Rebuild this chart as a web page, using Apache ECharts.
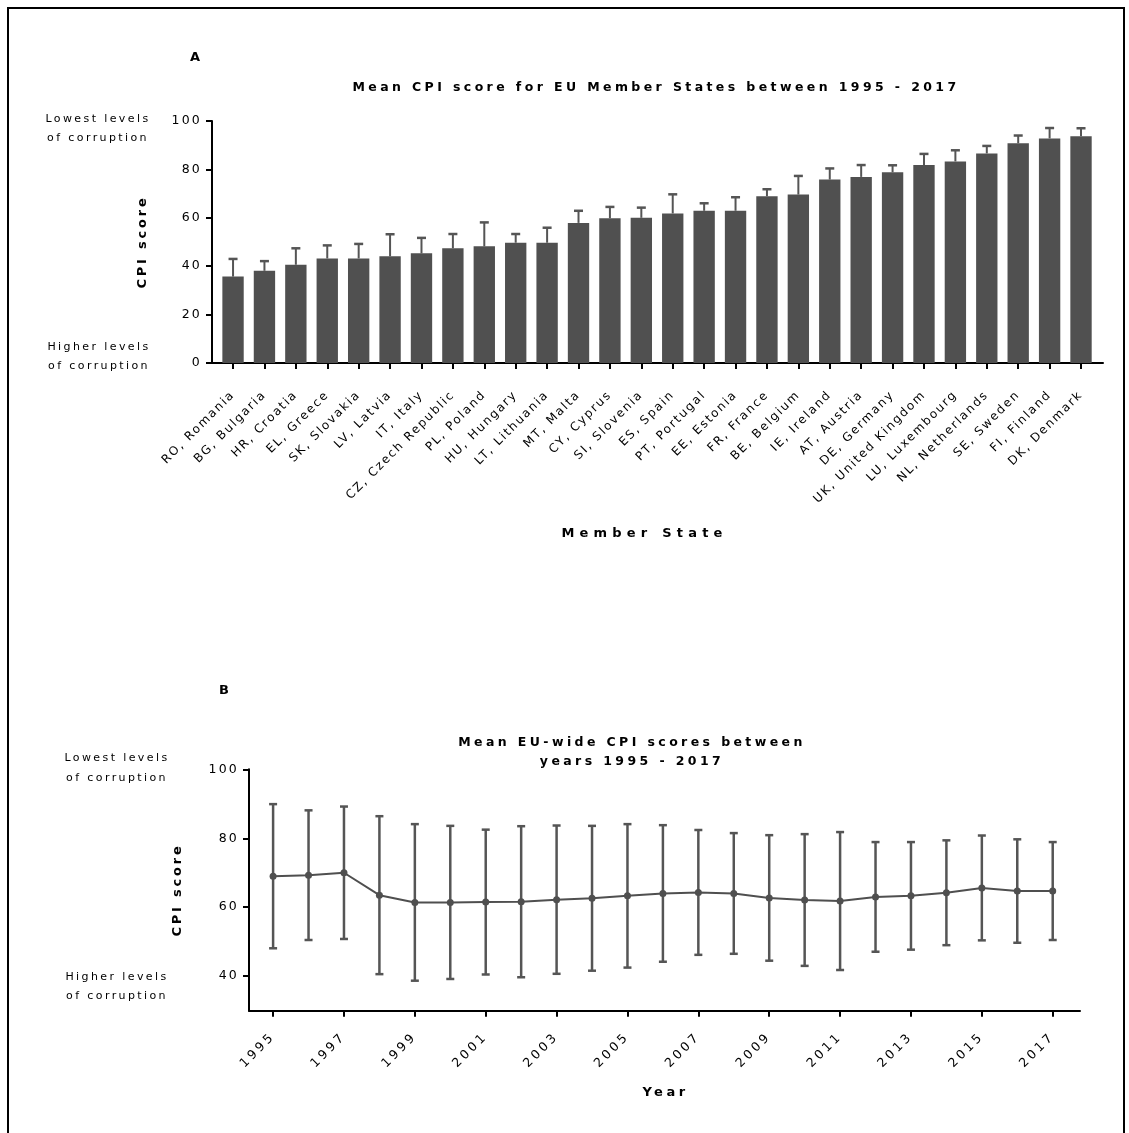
<!DOCTYPE html>
<html><head><meta charset="utf-8">
<script src="https://cdn.jsdelivr.net/npm/echarts@6/dist/echarts.min.js"></script>
<style>html,body{margin:0;padding:0;background:#fff}#c{width:1129px;height:1133px}</style>
</head><body><div id="c"></div>
<script>
// ---------------- data ----------------
const categories = ['RO, Romania','BG, Bulgaria','HR, Croatia','EL, Greece','SK, Slovakia','LV, Latvia','IT, Italy','CZ, Czech Republic','PL, Poland','HU, Hungary','LT, Lithuania','MT, Malta','CY, Cyprus','SI, Slovenia','ES, Spain','PT, Portugal','EE, Estonia','FR, France','BE, Belgium','IE, Ireland','AT, Austria','DE, Germany','UK, United Kingdom','LU, Luxembourg','NL, Netherlands','SE, Sweden','FI, Finland','DK, Denmark'];
const meanScores = [35.7,38.1,40.6,43.2,43.2,44.1,45.3,47.4,48.2,49.7,49.7,57.9,59.8,60.0,61.8,62.9,62.9,68.9,69.6,75.8,76.9,78.8,81.8,83.3,86.6,90.8,92.8,93.7];
const sdScores = [7.3,4.0,6.8,5.4,6.0,9.1,6.4,5.9,9.9,3.6,6.2,5.0,4.7,4.2,7.9,3.1,5.6,2.9,7.7,4.6,4.9,2.9,4.6,4.6,3.1,3.2,4.3,3.3];
const yTicksA = [0,20,40,60,80,100];

const years = [1995,1996,1997,1998,1999,2000,2001,2002,2003,2004,2005,2006,2007,2008,2009,2010,2011,2012,2013,2014,2015,2016,2017];
const euMean = [69.0,69.3,70.0,63.5,61.4,61.4,61.5,61.6,62.2,62.6,63.3,64.0,64.3,64.0,62.7,62.1,61.8,63.0,63.3,64.2,65.6,64.7,64.7];
const euSd = [20.9,18.8,19.2,22.9,22.7,22.2,21.0,21.9,21.5,21.0,20.8,19.8,18.1,17.5,18.2,19.1,20.0,15.9,15.6,15.2,15.2,15.0,14.2];
const yearTicks = [1995,1997,1999,2001,2003,2005,2007,2009,2011,2013,2015,2017];
const yTicksB = [40,60,80,100];

const titleA = 'Mean CPI score for EU Member States between 1995 - 2017';
const titleB = 'Mean EU-wide CPI scores between\nyears 1995 - 2017';
const noteTop = 'Lowest levels\nof corruption';
const noteBottom = 'Higher levels\nof corruption';

// ------------- letter spacing (Prism/Verdana look) -------------
(function(){
  const proto = CanvasRenderingContext2D.prototype;
  const setLS = function(ctx){
    if (!('letterSpacing' in ctx)) return;
    const m = /lsp(\d+)/.exec(ctx.font);
    ctx.letterSpacing = m ? (m[1]/10) + 'px' : '0px';
  };
  const of = proto.fillText, om = proto.measureText;
  proto.fillText = function(){ setLS(this); return of.apply(this, arguments); };
  proto.measureText = function(){ setLS(this); return om.apply(this, arguments); };
})();
const fam = s => '"DejaVu Sans", lsp' + Math.round(s * 10);

const BAR = '#505050', ERR = '#555555';
const axisLine = {show:true, onZero:false, lineStyle:{color:'#000', width:2}};
const axisTick = {show:true, length:6, lineStyle:{color:'#000', width:2}};

const chart = echarts.init(document.getElementById('c'), null, {renderer:'canvas'});

chart.setOption({
  backgroundColor:'#fff',
  animation:false,
  title:[
    {text:titleA, left:656, top:80, textAlign:'center', padding:0,
     textStyle:{fontFamily:fam(3.4), fontSize:12.5, fontWeight:'bold', color:'#000'}},
    {text:titleB, left:632, top:733, textAlign:'center', padding:0,
     textStyle:{fontFamily:fam(3.4), fontSize:12.5, fontWeight:'bold', color:'#000', lineHeight:19}}
  ],
  graphic:[
    {type:'rect', shape:{x:8, y:8, width:1116, height:1140}, style:{fill:'none', stroke:'#000', lineWidth:2}, silent:true},
    {type:'text', x:195, y:58, style:{text:'A', font:'bold 13px "DejaVu Sans"', fill:'#000', align:'center', verticalAlign:'middle'}},
    {type:'text', x:224, y:691, style:{text:'B', font:'bold 13px "DejaVu Sans"', fill:'#000', align:'center', verticalAlign:'middle'}},
    {type:'text', x:98, y:110, style:{text:noteTop, font:'11px ' + fam(2.4), fill:'#000', align:'center', verticalAlign:'top', lineHeight:19}},
    {type:'text', x:99, y:338, style:{text:noteBottom, font:'11px ' + fam(2.4), fill:'#000', align:'center', verticalAlign:'top', lineHeight:19}},
    {type:'text', x:117, y:748, style:{text:noteTop, font:'11px ' + fam(2.4), fill:'#000', align:'center', verticalAlign:'top', lineHeight:20}},
    {type:'text', x:117, y:968, style:{text:noteBottom, font:'11px ' + fam(2.4), fill:'#000', align:'center', verticalAlign:'top', lineHeight:19}}
  ],
  grid:[
    {left:212, top:121, width:891, height:242, outerBoundsMode:'none', containLabel:false},
    {left:249, top:769.3, width:831, height:241.4, outerBoundsMode:'none', containLabel:false}
  ],
  xAxis:[
    {type:'value', gridIndex:0, min:-0.67, max:27.7,
     axisLine, axisTick:Object.assign({customValues:categories.map((_, i) => i)}, axisTick),
     splitLine:{show:false},
     axisLabel:{customValues:categories.map((_, i) => i), formatter:v => categories[v] || '',
       rotate:45, margin:30, fontSize:12, fontFamily:fam(1.8), color:'#000'},
     name:'Member State', nameLocation:'middle', nameGap:162,
     nameTextStyle:{fontFamily:fam(5.2), fontSize:13, fontWeight:'bold', color:'#000', padding:[0, 26, 0, 0]}},
    {type:'value', gridIndex:1, min:1994.32, max:2017.77,
     axisLine, axisTick:Object.assign({customValues:yearTicks}, axisTick),
     splitLine:{show:false},
     axisLabel:{customValues:yearTicks, formatter:v => String(v),
       rotate:45, margin:24, fontSize:12.5, fontFamily:fam(3.0), color:'#000'},
     name:'Year', nameLocation:'middle', nameGap:74,
     nameTextStyle:{fontFamily:fam(3.5), fontSize:13, fontWeight:'bold', color:'#000', padding:[0, 0, 0, 2]}}
  ],
  yAxis:[
    {type:'value', gridIndex:0, min:0, max:100, interval:20,
     axisLine, axisTick, splitLine:{show:false},
     axisLabel:{margin:10, fontSize:12.5, fontFamily:fam(2.2), color:'#000'},
     name:'CPI score', nameLocation:'middle', nameGap:61, nameRotate:90,
     nameTextStyle:{fontFamily:fam(2.75), fontSize:13, fontWeight:'bold', color:'#000'}},
    {type:'value', gridIndex:1, min:30, max:100,
     axisLine, axisTick:Object.assign({customValues:yTicksB}, axisTick), splitLine:{show:false},
     axisLabel:{customValues:yTicksB, margin:10, fontSize:12.5, fontFamily:fam(2.2), color:'#000'},
     name:'CPI score', nameLocation:'middle', nameGap:63, nameRotate:90,
     nameTextStyle:{fontFamily:fam(2.75), fontSize:13, fontWeight:'bold', color:'#000'}}
  ],
  series:[
    {type:'custom', name:'SD', xAxisIndex:0, yAxisIndex:0, z:1,
     data:meanScores.map((m, i) => [i, m, m + sdScores[i]]),
     renderItem:(params, api) => {
       const x = api.value(0);
       const p0 = api.coord([x, api.value(1)]);
       const p1 = api.coord([x, api.value(2)]);
       const hw = 4.5;
       return {type:'group', children:[
         {type:'line', shape:{x1:p0[0], y1:p0[1], x2:p1[0], y2:p1[1]}, style:{stroke:ERR, lineWidth:2}},
         {type:'line', shape:{x1:p1[0] - hw, y1:p1[1], x2:p1[0] + hw, y2:p1[1]}, style:{stroke:ERR, lineWidth:2.5}}
       ]};
     }},
    {type:'bar', name:'Mean CPI', xAxisIndex:0, yAxisIndex:0, z:2,
     data:meanScores.map((v, i) => [i, v]), barWidth:'68%',
     itemStyle:{color:BAR}},
    {type:'custom', name:'EU SD', xAxisIndex:1, yAxisIndex:1, z:1,
     data:euMean.map((m, i) => [years[i], m - euSd[i], m + euSd[i]]),
     renderItem:(params, api) => {
       const x = api.value(0);
       const lo = api.coord([x, api.value(1)]);
       const hi = api.coord([x, api.value(2)]);
       const hw = 4;
       const st = {stroke:ERR, lineWidth:2.5};
       return {type:'group', children:[
         {type:'line', shape:{x1:lo[0], y1:lo[1], x2:hi[0], y2:hi[1]}, style:st},
         {type:'line', shape:{x1:hi[0] - hw, y1:hi[1], x2:hi[0] + hw, y2:hi[1]}, style:st},
         {type:'line', shape:{x1:lo[0] - hw, y1:lo[1], x2:lo[0] + hw, y2:lo[1]}, style:st}
       ]};
     }},
    {type:'line', name:'EU mean', xAxisIndex:1, yAxisIndex:1, z:3,
     data:euMean.map((v, i) => [years[i], v]),
     symbol:'circle', symbolSize:7, showAllSymbol:true,
     lineStyle:{color:'#4f4f4f', width:2}, itemStyle:{color:'#4f4f4f'}}
  ]
});
</script></body></html>
